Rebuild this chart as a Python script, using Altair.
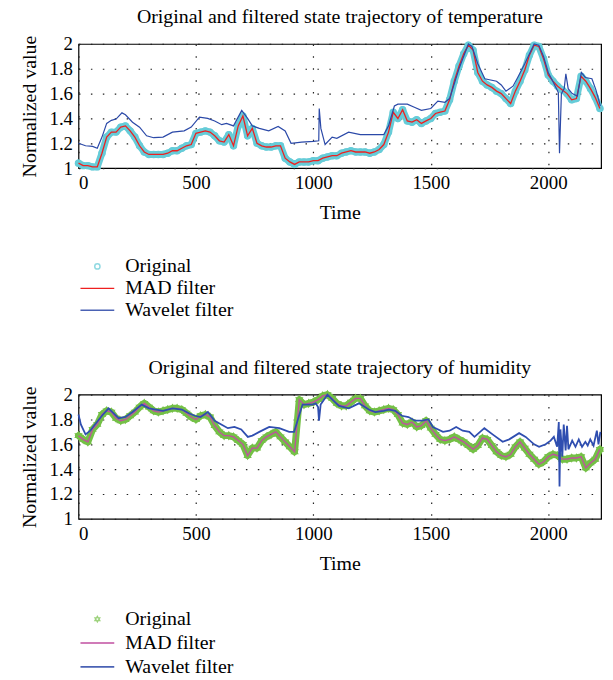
import altair as alt
import pandas as pd

# ---------------- data ----------------
t_step = list(range(0, 2221, 20))

temp_original = [
    1.04, 1.02, 1.02, 1.01, 1.01, 1.12, 1.25, 1.29, 1.29, 1.33,
    1.34, 1.30, 1.25, 1.18, 1.13, 1.11, 1.11, 1.11, 1.11, 1.12,
    1.14, 1.14, 1.16, 1.18, 1.19, 1.28, 1.29, 1.30, 1.29, 1.26,
    1.22, 1.21, 1.27, 1.18, 1.34, 1.42, 1.26, 1.32, 1.20, 1.18,
    1.17, 1.17, 1.18, 1.18, 1.08, 1.05, 1.03, 1.05, 1.05, 1.05,
    1.06, 1.06, 1.08, 1.09, 1.10, 1.10, 1.12, 1.13, 1.14, 1.13,
    1.13, 1.13, 1.12, 1.13, 1.15, 1.19, 1.29, 1.45, 1.40, 1.47,
    1.38, 1.37, 1.39, 1.36, 1.38, 1.40, 1.44, 1.45, 1.46, 1.55,
    1.70, 1.82, 1.92, 1.99, 1.95, 1.77, 1.70, 1.67, 1.65, 1.62,
    1.60, 1.56, 1.52, 1.62, 1.70, 1.79, 1.91, 1.99, 1.98, 1.88,
    1.75, 1.70, 1.66, 1.63, 1.60, 1.55, 1.56, 1.74, 1.70, 1.64,
    1.57, 1.48]
temp_mad = [
    1.04, 1.02, 1.02, 1.01, 1.01, 1.12, 1.25, 1.29, 1.29, 1.33,
    1.34, 1.30, 1.25, 1.18, 1.13, 1.11, 1.11, 1.11, 1.11, 1.12,
    1.14, 1.14, 1.16, 1.18, 1.19, 1.28, 1.29, 1.30, 1.29, 1.26,
    1.22, 1.21, 1.27, 1.18, 1.34, 1.42, 1.26, 1.32, 1.20, 1.18,
    1.17, 1.17, 1.18, 1.18, 1.08, 1.05, 1.03, 1.05, 1.05, 1.05,
    1.06, 1.06, 1.08, 1.09, 1.10, 1.10, 1.12, 1.13, 1.14, 1.13,
    1.13, 1.13, 1.12, 1.13, 1.15, 1.19, 1.29, 1.45, 1.40, 1.47,
    1.38, 1.37, 1.39, 1.36, 1.38, 1.40, 1.44, 1.45, 1.46, 1.55,
    1.70, 1.82, 1.92, 1.99, 1.95, 1.77, 1.70, 1.67, 1.65, 1.62,
    1.60, 1.56, 1.52, 1.62, 1.70, 1.79, 1.91, 1.99, 1.98, 1.88,
    1.75, 1.70, 1.66, 1.63, 1.60, 1.55, 1.56, 1.74, 1.70, 1.64,
    1.57, 1.48]
temp_wav_t = [
    0, 30, 60, 80, 100, 120, 140, 160, 185, 200, 230, 260, 290, 320, 360,
    400, 450, 480, 515, 550, 580, 610, 630, 660, 695, 720, 740, 770, 810,
    850, 880, 905, 950, 1000, 1023, 1025, 1032, 1050, 1080, 1100, 1150,
    1200, 1300, 1320, 1345, 1360, 1400, 1430, 1460, 1500, 1530, 1560, 1580,
    1620, 1660, 1675, 1700, 1730, 1780, 1800, 1820, 1850, 1870, 1900, 1940,
    1960, 1980, 2000, 2022, 2043, 2048, 2056, 2068, 2075, 2085, 2102, 2124,
    2141, 2158, 2186, 2203, 2222]
temp_wav_v = [
    1.20, 1.18, 1.175, 1.16, 1.25, 1.36, 1.385, 1.395, 1.445, 1.43, 1.37,
    1.33, 1.26, 1.245, 1.25, 1.29, 1.30, 1.33, 1.41, 1.40, 1.38, 1.35, 1.36,
    1.34, 1.465, 1.40, 1.34, 1.32, 1.30, 1.335, 1.30, 1.20, 1.21, 1.215,
    1.22, 1.48, 1.32, 1.19, 1.25, 1.24, 1.29, 1.27, 1.27, 1.34, 1.50, 1.515,
    1.515, 1.49, 1.465, 1.48, 1.54, 1.53, 1.56, 1.80, 2.00, 1.98, 1.84,
    1.72, 1.70, 1.67, 1.62, 1.66, 1.73, 1.84, 2.00, 1.99, 1.90, 1.77, 1.69,
    1.61, 1.12, 1.60, 1.64, 1.76, 1.64, 1.60, 1.58, 1.77, 1.73, 1.72, 1.63,
    1.50]

hum_original = [
    1.67, 1.64, 1.62, 1.72, 1.76, 1.84, 1.87, 1.86, 1.81, 1.79,
    1.80, 1.83, 1.86, 1.90, 1.93, 1.90, 1.87, 1.86, 1.87, 1.88,
    1.89, 1.89, 1.88, 1.85, 1.82, 1.80, 1.83, 1.84, 1.82, 1.75,
    1.70, 1.67, 1.67, 1.66, 1.63, 1.60, 1.51, 1.57, 1.57, 1.63,
    1.66, 1.68, 1.70, 1.66, 1.62, 1.58, 1.54, 1.96, 1.92, 1.93,
    1.94, 1.96, 1.99, 2.00, 1.97, 1.93, 1.91, 1.91, 1.94, 1.97,
    1.97, 1.91, 1.87, 1.86, 1.87, 1.88, 1.89, 1.88, 1.84, 1.77,
    1.76, 1.78, 1.74, 1.75, 1.79, 1.73, 1.68, 1.64, 1.63, 1.64,
    1.66, 1.64, 1.62, 1.59, 1.56, 1.59, 1.65, 1.64, 1.59, 1.54,
    1.51, 1.50, 1.52, 1.58, 1.62, 1.57, 1.52, 1.48, 1.44, 1.46,
    1.50, 1.52, 1.51, 1.48, 1.48, 1.49, 1.49, 1.50, 1.41, 1.45,
    1.48, 1.56]
hum_mad = [
    1.67, 1.64, 1.62, 1.72, 1.76, 1.84, 1.87, 1.86, 1.81, 1.79,
    1.80, 1.83, 1.86, 1.90, 1.93, 1.90, 1.87, 1.86, 1.87, 1.88,
    1.89, 1.89, 1.88, 1.85, 1.82, 1.80, 1.83, 1.84, 1.82, 1.75,
    1.70, 1.67, 1.67, 1.66, 1.63, 1.60, 1.51, 1.57, 1.57, 1.63,
    1.66, 1.68, 1.70, 1.66, 1.62, 1.58, 1.54, 1.96, 1.92, 1.93,
    1.94, 1.96, 1.99, 2.00, 1.97, 1.93, 1.91, 1.91, 1.94, 1.97,
    1.97, 1.91, 1.87, 1.86, 1.87, 1.88, 1.89, 1.88, 1.84, 1.77,
    1.76, 1.78, 1.74, 1.75, 1.79, 1.73, 1.68, 1.64, 1.63, 1.64,
    1.66, 1.64, 1.62, 1.59, 1.56, 1.59, 1.65, 1.64, 1.59, 1.54,
    1.51, 1.50, 1.52, 1.58, 1.62, 1.57, 1.52, 1.48, 1.44, 1.46,
    1.50, 1.52, 1.51, 1.48, 1.48, 1.49, 1.49, 1.50, 1.41, 1.45,
    1.48, 1.56]
hum_wav_t = [
    0, 10, 30, 50, 70, 100, 128, 150, 171, 200, 230, 269, 300, 330, 360,
    400, 440, 470, 495, 520, 551, 580, 608, 636, 664, 693, 721, 740, 770,
    812, 855, 897, 918, 939, 954, 996, 1010, 1020, 1024, 1031, 1060, 1081,
    1109, 1151, 1194, 1236, 1264, 1300, 1321, 1349, 1377, 1405, 1433, 1462,
    1490, 1509, 1552, 1580, 1608, 1636, 1664, 1686, 1728, 1763, 1806, 1834,
    1876, 1904, 1940, 1961, 1989, 2010, 2024, 2038, 2045, 2048, 2052, 2060,
    2066, 2074, 2080, 2086, 2102, 2116, 2130, 2144, 2158, 2168, 2179, 2193,
    2207, 2214, 2222]
hum_wav_v = [
    1.84, 1.76, 1.68, 1.71, 1.76, 1.83, 1.89, 1.85, 1.81, 1.82, 1.86, 1.92,
    1.89, 1.88, 1.87, 1.89, 1.88, 1.85, 1.83, 1.82, 1.86, 1.79, 1.76, 1.73,
    1.74, 1.72, 1.66, 1.67, 1.70, 1.74, 1.73, 1.70, 1.70, 1.83, 1.92, 1.92,
    1.93, 1.90, 1.79, 1.92, 2.00, 1.96, 1.91, 1.89, 1.93, 1.88, 1.86, 1.87,
    1.88, 1.87, 1.83, 1.82, 1.79, 1.79, 1.80, 1.74, 1.70, 1.71, 1.74, 1.71,
    1.70, 1.66, 1.73, 1.68, 1.62, 1.64, 1.69, 1.66, 1.60, 1.58, 1.60, 1.63,
    1.66, 1.58, 1.78, 1.26, 1.72, 1.50, 1.76, 1.55, 1.75, 1.56, 1.63, 1.58,
    1.64, 1.58, 1.62, 1.59, 1.64, 1.59, 1.71, 1.60, 1.70]

x_ticks = [0, 500, 1000, 1500, 2000]
y_ticks = [1, 1.2, 1.4, 1.6, 1.8, 2]
legend_labels = ["Original", "MAD filter", "Wavelet filter"]

titles = ["Original and filtered state trajectory of temperature",
          "Original and filtered state trajectory of humidity"]

# ---------------- styling ----------------
FONT = "Liberation Serif"
W, H = 526, 125
HEXAGRAM = ("M0,-1L0.289,-0.5L0.866,-0.5L0.577,0L0.866,0.5L0.289,0.5L0,1"
            "L-0.289,0.5L-0.866,0.5L-0.577,0L-0.866,-0.5L-0.289,-0.5Z")


def panel(title, orig, mad, wt, wv, c_orig, c_mad, c_wav, shape, wav_w):
    d_orig = pd.DataFrame({"t": t_step, "v": orig})
    d_mad = pd.DataFrame({"t": t_step, "v": mad})
    d_wav = pd.DataFrame({"t": wt, "v": wv})
    x = alt.X("t:Q",
              scale=alt.Scale(domain=[0, 2225], nice=False, zero=False),
              axis=alt.Axis(values=x_ticks, title="Time", format="d"))
    y = alt.Y("v:Q",
              scale=alt.Scale(domain=[1, 2], nice=False, zero=False),
              axis=alt.Axis(values=y_ticks, title="Normalized value",
                            format="~g"))
    # dense markers of the original series overlap into a band
    band = alt.Chart(d_orig).mark_line(
        color=c_orig, strokeWidth=7, strokeCap="round",
        strokeJoin="round").encode(x=x, y=y)
    pts = alt.Chart(d_orig).mark_point(
        shape=shape, filled=False, color=c_orig, size=28, strokeWidth=2.2,
        opacity=1).encode(x=x, y=y)
    mad_line = alt.Chart(d_mad).mark_line(
        color=c_mad, strokeWidth=1.3).encode(x=x, y=y)
    wav_line = alt.Chart(d_wav).mark_line(
        color=c_wav, strokeWidth=wav_w).encode(x=x, y=y)
    return alt.layer(band, pts, mad_line, wav_line).properties(
        width=W, height=H,
        title=alt.TitleParams(title, font=FONT, fontSize=20,
                              fontWeight="normal", color="black", offset=8))


def legend_panel(c_orig, c_mad, c_wav, shape, rng, height):
    d = pd.DataFrame({"label": legend_labels})
    y = alt.Y("label:N", sort=legend_labels,
              scale=alt.Scale(type="point", range=rng, padding=0), axis=None)
    sym = alt.Chart(d).transform_filter(
        alt.datum.label == "Original").mark_point(
        shape=shape, filled=False, size=28, strokeWidth=1.5,
        color=c_orig).encode(x=alt.value(19), y=y)
    mad = alt.Chart(d).transform_filter(
        alt.datum.label == "MAD filter").mark_rule(
        strokeWidth=1.4, color=c_mad).encode(
        x=alt.value(2), x2=alt.value(36), y=y)
    wav = alt.Chart(d).transform_filter(
        alt.datum.label == "Wavelet filter").mark_rule(
        strokeWidth=1.6, color=c_wav).encode(
        x=alt.value(2), x2=alt.value(36), y=y)
    txt = alt.Chart(d).mark_text(
        align="left", baseline="middle", font=FONT, fontSize=20,
        color="black").encode(x=alt.value(47), y=y, text="label:N")
    return alt.layer(sym, mad, wav, txt).properties(
        width=W, height=height, view=alt.ViewBackground(strokeOpacity=0))


top = panel(titles[0], temp_original, temp_mad, temp_wav_t, temp_wav_v,
            "#66ccd8", "#ee2020", "#2b49a8", "circle", 1.2)
top_leg = legend_panel("#62cad6", "#ee2020", "#4a62b4", "circle",
                       [13, 57], 74)
bot = panel(titles[1], hum_original, hum_mad, hum_wav_t, hum_wav_v,
            "#74c046", "#c04fa0", "#2f4eb0", HEXAGRAM, 1.8)
bot_leg = legend_panel("#74c046", "#c04fa0", "#4a62b4", HEXAGRAM,
                       [15, 63], 74)

chart = alt.vconcat(top, top_leg, bot, bot_leg, spacing=30).properties(
    padding={"left": 18, "top": 4, "right": 5, "bottom": 2}
).configure_view(stroke="black", strokeWidth=1.2).configure_axis(
    labelFont=FONT, labelFontSize=19, labelColor="black",
    titleFont=FONT, titleFontSize=20, titleFontWeight="normal",
    titleColor="black", grid=True, gridColor="#222", gridDash=[1.5, 10.5],
    gridWidth=1.2, gridOpacity=1, domain=False, ticks=False, labelPadding=6,
).configure_axisY(titlePadding=10).configure_axisX(titlePadding=10)

chart.save("out.html", embed_options={"renderer": "svg", "actions": False})
